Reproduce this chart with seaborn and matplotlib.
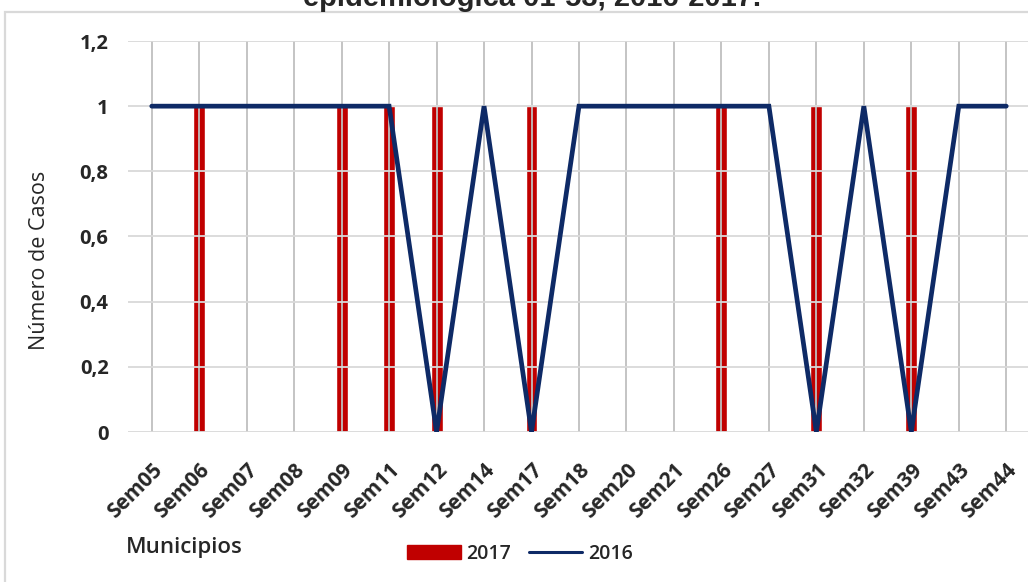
import matplotlib
matplotlib.use("Agg")
import matplotlib.pyplot as plt
import seaborn as sb
import pandas as pd
from matplotlib.patches import Rectangle
from matplotlib.lines import Line2D

# data
weeks = ['Sem05', 'Sem06', 'Sem07', 'Sem08', 'Sem09', 'Sem11', 'Sem12', 'Sem14', 'Sem17', 'Sem18',
         'Sem20', 'Sem21', 'Sem26', 'Sem27', 'Sem31', 'Sem32', 'Sem39', 'Sem43', 'Sem44']
cases_2017 = [0, 1, 0, 0, 1, 1, 1, 0, 1, 0, 0, 0, 1, 0, 1, 0, 1, 0, 0]
cases_2016 = [1, 1, 1, 1, 1, 1, 0, 1, 0, 1, 1, 1, 1, 1, 0, 1, 0, 1, 1]
y_ticks = [0, 0.2, 0.4, 0.6, 0.8, 1, 1.2]
y_labels = ['0', '0,2', '0,4', '0,6', '0,8', '1', '1,2']

df = pd.DataFrame({'week': weeks, 'y2017': cases_2017, 'y2016': cases_2016})

RED = '#C00000'
NAVY = '#0E2A66'

sb.set_style('white')
plt.rcParams['font.family'] = ['Open Sans', 'DejaVu Sans']

fig = plt.figure(figsize=(10.28, 5.82), dpi=100)
ax = fig.add_axes([128 / 1028, 1 - 432 / 582, 902 / 1028, 391 / 582])

# bars for 2017
sb.barplot(data=df, x='week', y='y2017', color=RED, width=0.25, saturation=1, ax=ax, zorder=1)
# line for 2016
sb.lineplot(data=df, x='week', y='y2016', color=NAVY, linewidth=3.4, sort=False, ax=ax,
            zorder=3, solid_capstyle='round', solid_joinstyle='miter')

ax.set_xlim(-0.5, len(weeks) - 0.5)
ax.set_ylim(0, 1.2)
ax.set_yticks(y_ticks)
ax.set_yticklabels(y_labels, fontsize=14.5, fontweight='bold')
ax.set_xticks(range(len(weeks)))
ax.set_xticklabels(weeks, rotation=45, ha='right', rotation_mode='anchor', fontsize=15, fontweight='bold')
ax.tick_params(axis='x', length=0, pad=20)
ax.tick_params(axis='y', length=0, pad=14)

# gridlines on top of the bars (as in the original)
ax.set_axisbelow(False)
ax.grid(axis='y', color='#D9D9D9', linewidth=1.3)
ax.grid(axis='x', color='#BFBFBF', linewidth=1.3)
for s in ax.spines.values():
    s.set_visible(False)

ax.set_xlabel('')
ax.set_ylabel('Número de Casos', fontsize=15.5)
ax.yaxis.set_label_coords((50 - 128) / 902, (432 - 260) / 391)

fig.text(126 / 1028, 1 - 547 / 582, 'Municipios', fontsize=16, fontweight='semibold', va='center')

# legend
handles = [Rectangle((0, 0), 1, 1, color=RED), Line2D([0], [0], color=NAVY, linewidth=2.2)]
fig.legend(handles, ['2017', '2016'], loc='center', bbox_to_anchor=(520 / 1028, 1 - 554 / 582),
           ncol=2, frameon=False, prop={'size': 14, 'weight': 'semibold'},
           handlelength=2.75, handleheight=0.75, columnspacing=0.9, handletextpad=0.3)

# cut title on top
fig.text(532 / 1028, 1 - 6 / 582, 'epidemiológica 01-53, 2016-2017.', fontsize=21,
         fontweight='bold', family='Liberation Sans', ha='center', va='baseline')

# chart area border
fig.patches.append(Rectangle((5 / 1028, -0.1), 1.2, 1 - 12 / 582 + 0.1, transform=fig.transFigure,
                             fill=False, edgecolor='#D9D9D9', linewidth=1.6))

plt.savefig('out.png', dpi=100)
plt.close()
